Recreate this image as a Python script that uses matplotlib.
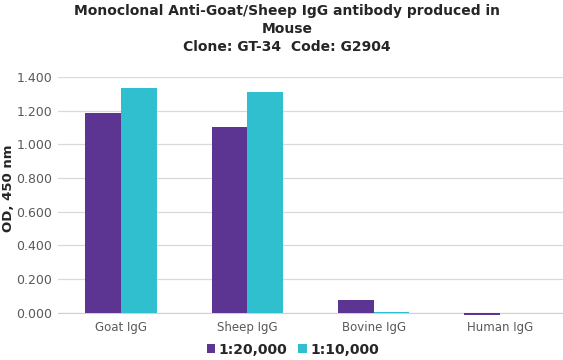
import matplotlib
matplotlib.use("Agg")
import matplotlib.pyplot as plt
import numpy as np

categories = ["Goat IgG", "Sheep IgG", "Bovine IgG", "Human IgG"]
series_names = ["1:20,000", "1:10,000"]
values_20000 = [1.188, 1.105, 0.077, -0.012]
values_10000 = [1.336, 1.309, 0.005, 0.001]
yticks = [0.0, 0.2, 0.4, 0.6, 0.8, 1.0, 1.2, 1.4]
colors = ["#5c3592", "#30bfcf"]

plt.rcParams['font.family'] = ['DejaVu Sans']
fig = plt.figure(figsize=(5.63, 3.6), dpi=100)
ax = fig.add_axes([0.103, 0.131, 0.897, 0.655])

x = np.arange(len(categories))
w = 0.283
b1 = ax.bar(x - w/2, values_20000, w, color=colors[0], label=series_names[0], zorder=3)
b2 = ax.bar(x + w/2, values_10000, w, color=colors[1], label=series_names[1], zorder=3)
for p in list(b1) + list(b2):
    p.set_clip_on(False)

ax.set_xlim(-0.5, len(categories) - 0.5)
ax.set_ylim(0, 1.4)
ax.set_yticks(yticks)
ax.set_yticklabels([f"{v:.3f}" for v in yticks], fontsize=9, color="#595959")
ax.set_xticks(x)
ax.set_xticklabels(categories, fontsize=8.5, color="#595959")
ax.tick_params(axis='y', length=0, pad=4)
ax.tick_params(axis='x', length=0, pad=6)
ax.grid(axis='y', color="#d9d9d9", linewidth=0.9, zorder=0)
for s in ["top", "right", "left"]:
    ax.spines[s].set_visible(False)
ax.spines["bottom"].set_color("#d0d0d0")
ax.spines["bottom"].set_zorder(2)

ax.set_ylabel("OD, 450 nm", fontsize=9.5, fontweight='bold', color="#262626")
ax.yaxis.set_label_coords(9 / 563, (360 - 188) / 360, transform=fig.transFigure)
ax.yaxis.label.set_verticalalignment('center')
fig.text(0.51, 0.99, "Monoclonal Anti-Goat/Sheep IgG antibody produced in\nMouse\nClone: GT-34  Code: G2904",
         ha='center', va='top', fontsize=10, fontweight='bold', color="#262626", linespacing=1.4)

leg = fig.legend(loc='lower center', bbox_to_anchor=(0.52, -0.025), ncol=2, frameon=False,
                 prop={'size': 10, 'weight': 'bold'}, handlelength=0.6, handleheight=0.6,
                 handletextpad=0.25, columnspacing=0.8, labelcolor="#262626")
fig.savefig("out.png", dpi=100)
